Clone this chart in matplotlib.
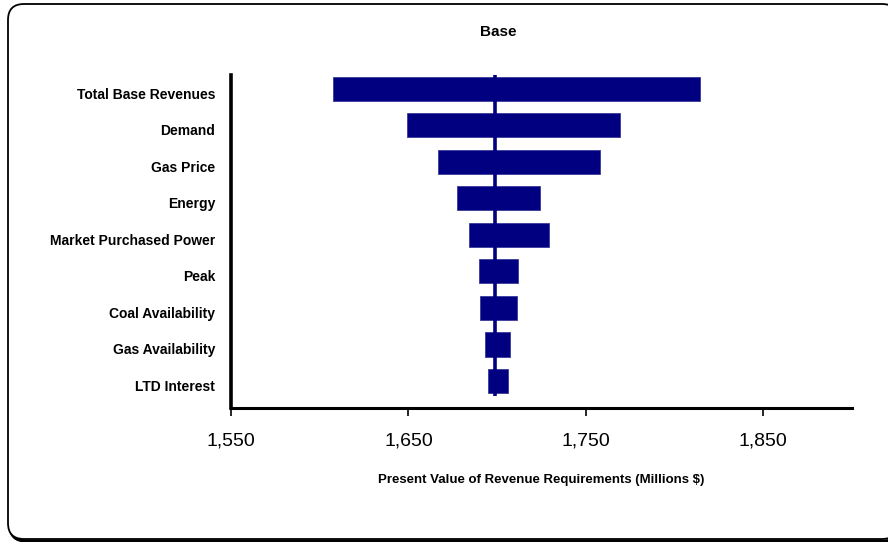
import matplotlib
matplotlib.use("Agg")
import matplotlib.pyplot as plt
from matplotlib.patches import FancyBboxPatch
from matplotlib.transforms import IdentityTransform, ScaledTranslation
from matplotlib.ticker import FuncFormatter

# Dados do gráfico tornado (valores em milhões $)
categorias = ["Total Base Revenues", "Demand", "Gas Price", "Energy",
              "Market Purchased Power", "Peak", "Coal Availability",
              "Gas Availability", "LTD Interest"]
valor_baixo = [1607.4, 1649.2, 1666.7, 1677.5, 1684.2, 1689.5, 1690.5, 1693.3, 1694.6]
valor_alto = [1814.2, 1769.5, 1757.9, 1724.4, 1729.1, 1711.6, 1711.2, 1707.4, 1706.1]
valor_base = 1698.9
ticks_x = [1550, 1650, 1750, 1850]

plt.rcParams['font.family'] = ['Liberation Sans', 'DejaVu Sans']

fig = plt.figure(figsize=(8.88, 5.42), dpi=100)

# Moldura arredondada com sombra (atrás dos eixos)
sombra = FancyBboxPatch((10, 1), 890, 534, boxstyle="round,pad=0,rounding_size=16",
                        transform=IdentityTransform(), facecolor='none',
                        edgecolor='black', linewidth=2.2, zorder=-2)
moldura = FancyBboxPatch((8, 3), 890, 535, boxstyle="round,pad=0,rounding_size=16",
                         transform=IdentityTransform(), facecolor='white',
                         edgecolor='black', linewidth=1.3, zorder=-1)
fig.patches.append(sombra)
fig.patches.append(moldura)

ax = fig.add_axes([231 / 888, 1 - 408 / 542, 621 / 888, 333 / 542])
ax.set_facecolor('none')
ax.set_zorder(5)

pos = list(range(len(categorias)))
larguras = [a - b for a, b in zip(valor_alto, valor_baixo)]
ax.barh(pos, larguras, left=valor_baixo, height=0.66, color='#000080',
        edgecolor='#3a3a9a', linewidth=0.6, zorder=2)
ax.vlines(valor_base, -0.5, 8.4, color='#000080', linewidth=2.6, zorder=3)

ax.set_xlim(1550, 1900)
ax.set_ylim(8.74, -0.38)
ax.set_xticks(ticks_x)
ax.xaxis.set_major_formatter(FuncFormatter(lambda v, p: f"{v:,.0f}"))
ax.set_yticks(pos)
ax.set_yticklabels([])

# rótulos das categorias um pouco abaixo do centro das barras, como no original
desloca = ScaledTranslation(-0.16, -0.06, fig.dpi_scale_trans)
for i, nome in zip(pos, categorias):
    ax.text(0, i, nome, transform=ax.get_yaxis_transform() + desloca,
            ha='right', va='center', fontsize=10, fontweight='bold')

for lado in ['top', 'right']:
    ax.spines[lado].set_visible(False)
ax.spines['left'].set_linewidth(2.6)
ax.spines['bottom'].set_linewidth(2.2)

ax.tick_params(axis='y', length=0)
ax.tick_params(axis='x', length=6, width=1.2, direction='out', labelsize=14, pad=12)

ax.set_xlabel("Present Value of Revenue Requirements (Millions $)", fontsize=9.5,
              fontweight='bold', labelpad=17)
fig.text(498 / 888, 1 - 32 / 542, "Base", ha='center', va='center',
         fontsize=11, fontweight='bold')

plt.savefig('out.png', dpi=100)
